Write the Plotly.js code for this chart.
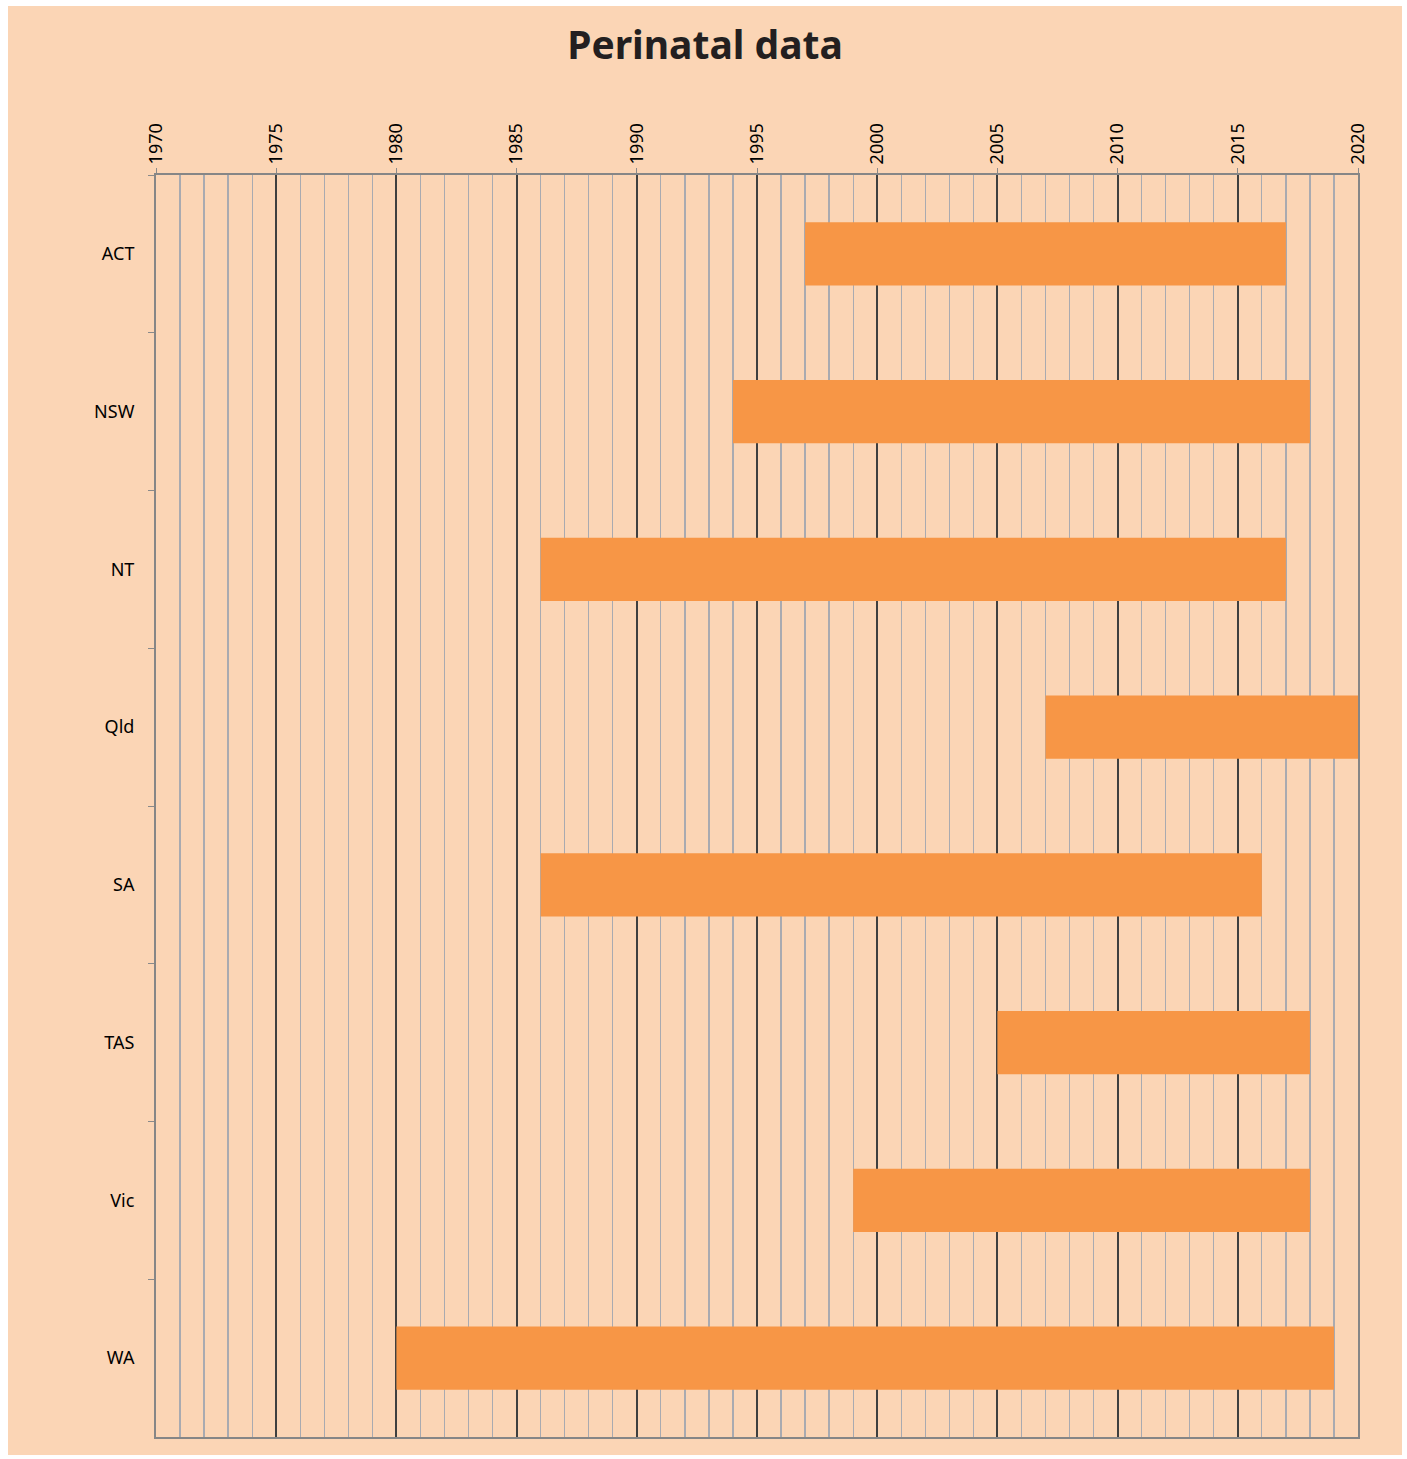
<!DOCTYPE html>
<html>
<head>
<meta charset="utf-8">
<script src="https://cdn.plot.ly/plotly-3.0.1.min.js"></script>
<style>
  html, body { margin: 0; padding: 0; background: #ffffff; }
  #wrap { position: absolute; left: 8px; top: 6px; width: 1394px; height: 1449px; background: #FBD5B5; }
  #chart { width: 1394px; height: 1449px; }
</style>
</head>
<body>
<div id="wrap"><div id="chart"></div></div>
<script>
const states = ["ACT", "NSW", "NT", "Qld", "SA", "TAS", "Vic", "WA"];
const startYear = [1997, 1994, 1986, 2007, 1986, 2005, 1999, 1980];
const endYear = [2017, 2018, 2017, 2020, 2016, 2018, 2018, 2019];
const yearTicks = [1970, 1975, 1980, 1985, 1990, 1995, 2000, 2005, 2010, 2015, 2020];

const spans = endYear.map((e, i) => e - startYear[i]);

const trace = {
  type: "bar",
  orientation: "h",
  y: states,
  x: spans,
  base: startYear,
  width: 0.4,
  marker: { color: "#F79646", line: { width: 0 } },
  hoverinfo: "none"
};

const layout = {
  width: 1394,
  height: 1449,
  paper_bgcolor: "#FBD5B5",
  plot_bgcolor: "#FBD5B5",
  margin: { l: 148, r: 44, t: 169, b: 18 },
  showlegend: false,
  title: {
    text: "<b>Perinatal data</b>",
    font: { family: "Noto Sans, Open Sans, sans-serif", size: 39, color: "#231F20" },
    x: 0.5, xanchor: "center",
    y: 0.973, yanchor: "middle"
  },
  xaxis: {
    side: "top",
    range: [1970, 2020],
    tickmode: "array",
    tickvals: yearTicks,
    ticktext: yearTicks.map(String),
    tickangle: -90,
    tickfont: { family: "Noto Sans, sans-serif", size: 18, color: "#000000" },
    ticks: "outside",
    ticklen: 5,
    tickwidth: 1,
    tickcolor: "#8a8a8a",
    showgrid: true,
    gridcolor: "#3f3f3f",
    gridwidth: 2,
    minor: { dtick: 1, tick0: 1970, showgrid: true, gridcolor: "#a9aab0", gridwidth: 1.3, ticks: "" },
    showline: true,
    linecolor: "#868686",
    linewidth: 2,
    mirror: true,
    zeroline: false,
    fixedrange: true
  },
  yaxis: {
    type: "category",
    categoryorder: "array",
    categoryarray: states,
    autorange: "reversed",
    tickfont: { family: "Noto Sans, sans-serif", size: 18, color: "#000000" },
    ticks: "outside",
    tickson: "boundaries",
    ticklen: 6,
    tickwidth: 1,
    tickcolor: "#8a8a8a",
    ticklabelstandoff: 16,
    showgrid: false,
    showline: true,
    linecolor: "#868686",
    linewidth: 2,
    mirror: true,
    zeroline: false,
    fixedrange: true
  },
  bargap: 0.6
};

Plotly.newPlot("chart", [trace], layout, { displayModeBar: false, staticPlot: true });
</script>
</body>
</html>
